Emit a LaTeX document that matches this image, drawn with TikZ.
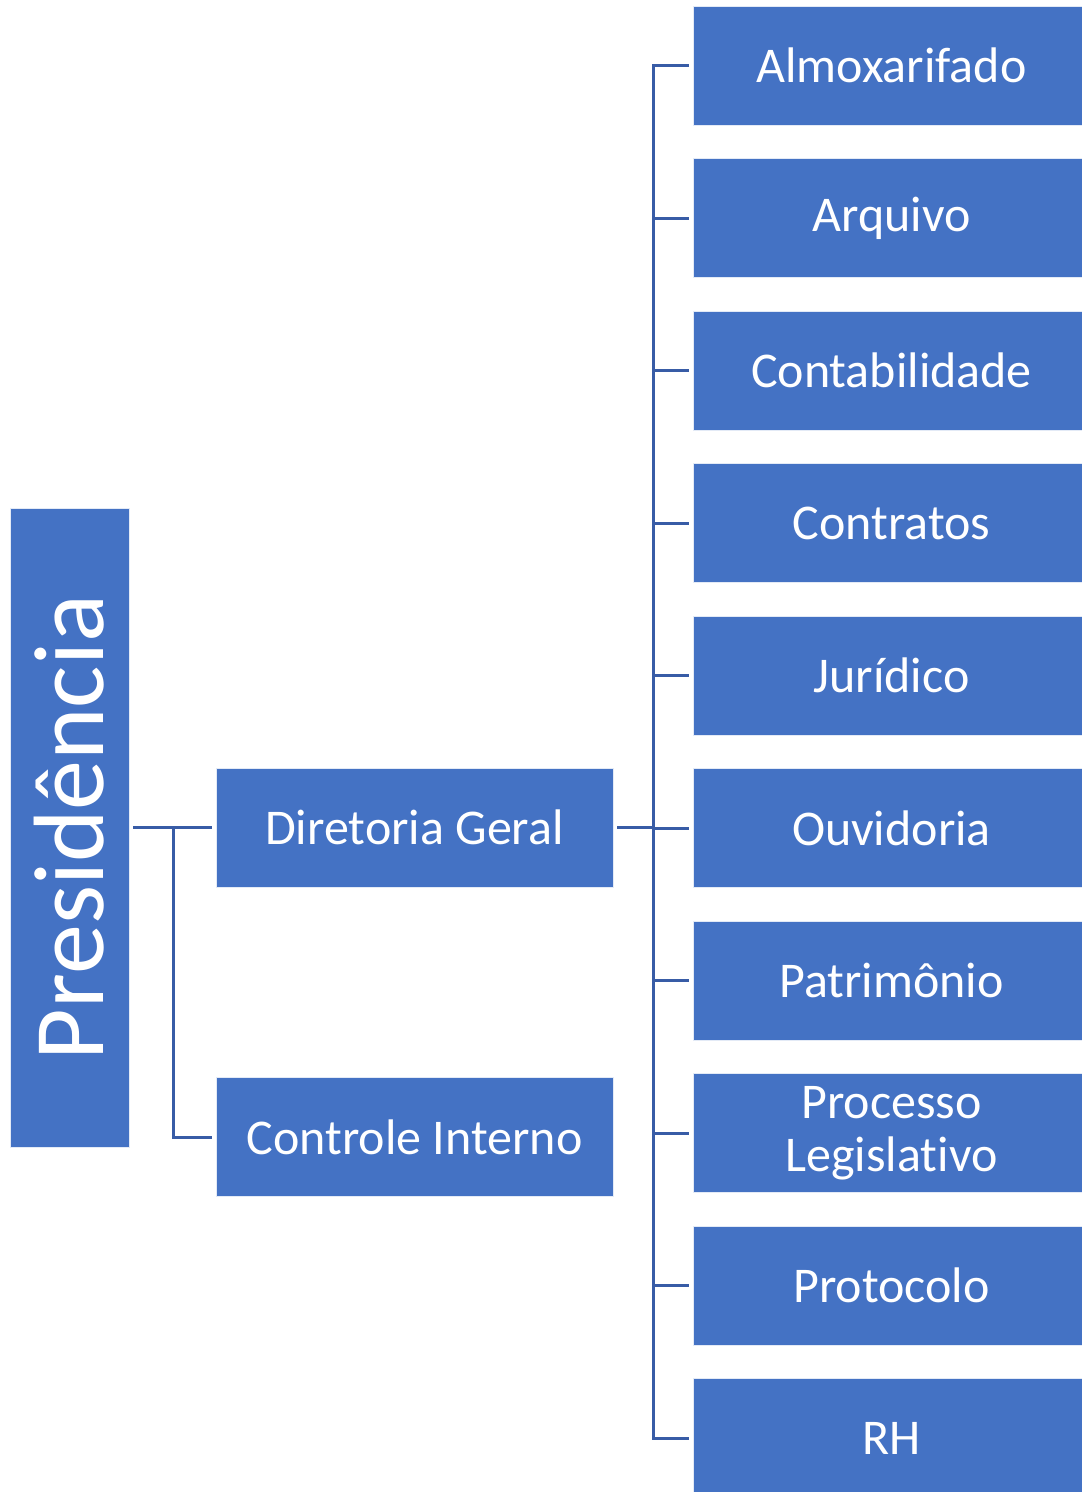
\documentclass[tikz,border=0pt]{standalone}
\usepackage{fontspec}
\setmainfont{Carlito}[Ligatures={NoCommon}]
\definecolor{boxblue}{HTML}{4472C4}
\definecolor{lineblue}{RGB}{56,92,166}
\begin{document}
\begin{tikzpicture}[x=1pt,y=-1pt,
  box/.style={fill=boxblue, draw=white!85!boxblue, line width=0.8pt, text=white, inner sep=0pt, outer sep=4pt,
    font=\fontsize{50}{57}\selectfont, align=center},
  midbox/.style={box, minimum width=397, minimum height=119},
  rbox/.style={box, minimum width=397, minimum height=119},
  conn/.style={draw=lineblue, line width=3pt}]
\useasboundingbox (0,0) rectangle (1082,1492);
\node[box, rotate=90, minimum width=639, minimum height=119, font=\fontsize{100}{110}\selectfont] (pres) at (69.5,827.5) {Presidência};
\node[midbox] (dg) at (414.5,827.5) {Diretoria Geral};
\node[midbox] (ci) at (414.5,1137) {Controle Interno};
\node[rbox] (b1) at (891.5,65.5) {Almoxarifado};
\node[rbox] (b2) at (891.5,218) {Arquivo};
\node[rbox] (b3) at (891.5,370.5) {Contabilidade};
\node[rbox] (b4) at (891.5,523) {Contratos};
\node[rbox] (b5) at (891.5,675.5) {Jurídico};
\node[rbox] (b6) at (891.5,828) {Ouvidoria};
\node[rbox] (b7) at (891.5,980.5) {Patrimônio};
\node[rbox] (b8) at (891.5,1133) {Processo\\[-4pt]Legislativo};
\node[rbox] (b9) at (891.5,1285.5) {Protocolo};
\node[rbox] (b10) at (891.5,1438) {RH};
\coordinate (j1) at (173,0);
\coordinate (j2) at (653,0);
\draw[conn] (pres.south) -- (dg.west);
\draw[conn] (pres.south -| j1) |- (ci.west);
\draw[conn] (dg.east) -- (dg.east -| j2);
\draw[conn] (b1.west) -- (b1.west -| j2) -- (b10.west -| j2) -- (b10.west);
\foreach \b in {b2,b3,b4,b5,b6,b7,b8,b9}{
  \draw[conn] (\b.west -| j2) -- (\b.west);
}
\end{tikzpicture}
\end{document}
